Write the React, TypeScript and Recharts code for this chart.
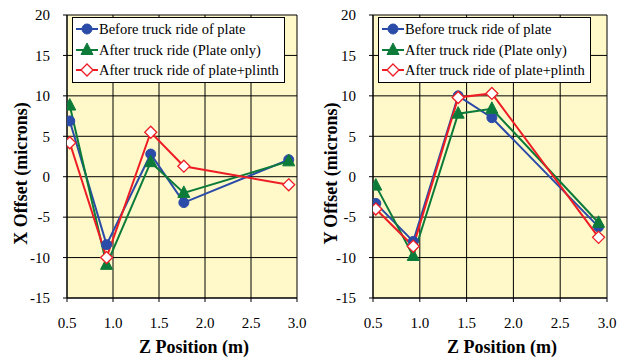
import React from 'react'
import { CartesianGrid, Line, LineChart, XAxis, YAxis } from 'recharts'

// Z positions (m) of the five measurement points
const zPositions = [0.53, 0.93, 1.41, 1.77, 2.91]

// X offset (microns)
const xBefore = [6.9, -8.4, 2.8, -3.2, 2.1]
const xAfterPlate = [8.8, -10.9, 1.8, -2.0, 1.9]
const xAfterPlinth = [4.2, -10.0, 5.5, 1.3, -1.0]

// Y offset (microns)
const yBefore = [-3.3, -8.0, 10.0, 7.3, -6.2]
const yAfterPlate = [-1.1, -9.8, 7.8, 8.4, -5.7]
const yAfterPlinth = [-4.0, -8.6, 9.8, 10.3, -7.5]

const xTicks = [0.5, 1.0, 1.5, 2.0, 2.5, 3.0]
const yTicks = [-15, -10, -5, 0, 5, 10, 15, 20]

const seriesNames = [
  'Before truck ride of plate',
  'After truck ride (Plate only)',
  'After truck ride of plate+plinth',
]

const BLUE = '#2B4BA8'
const GREEN = '#0C7B3A'
const RED = '#EE1C25'
const FONT = '"Times New Roman", Times, "Liberation Serif", "DejaVu Serif", "Noto Serif", serif'

function buildRows(a: number[], b: number[], c: number[]) {
  return zPositions.map((z, i) => ({ z, before: a[i], plate: b[i], plinth: c[i] }))
}

function CircleMark({ cx, cy, color }: { cx: number; cy: number; color: string }) {
  return <circle cx={cx} cy={cy} r={5} fill={color} stroke={color} />
}

function TriangleMark({ cx, cy, color }: { cx: number; cy: number; color: string }) {
  return <polygon points={`${cx},${cy - 7} ${cx - 6},${cy + 4.5} ${cx + 6},${cy + 4.5}`} fill={color} stroke={color} />
}

function DiamondMark({ cx, cy, color }: { cx: number; cy: number; color: string }) {
  return (
    <polygon
      points={`${cx},${cy - 6} ${cx + 6},${cy} ${cx},${cy + 6} ${cx - 6},${cy}`}
      fill="#fff"
      stroke={color}
      strokeWidth={1.3}
    />
  )
}

const markers = [
  { key: 'before', color: BLUE, Mark: CircleMark },
  { key: 'plate', color: GREEN, Mark: TriangleMark },
  { key: 'plinth', color: RED, Mark: DiamondMark },
]

// legend box drawn over the plot area, like the original spreadsheet chart
function LegendBox({ left }: { left: number }) {
  return (
    <div
      style={{
        position: 'absolute',
        left,
        top: 17,
        background: '#fff',
        border: '1px solid #000',
        padding: '1px 5px 1px 3px',
        fontFamily: FONT,
        fontSize: 14.5,
        color: '#000',
        lineHeight: '20.5px',
        whiteSpace: 'nowrap',
      }}
    >
      {markers.map(({ key, color, Mark }, i) => (
        <div key={key} style={{ display: 'flex', alignItems: 'center' }}>
          <svg width={22} height={14} style={{ marginRight: 1 }}>
            <line x1={0} y1={7} x2={22} y2={7} stroke={color} strokeWidth={2} />
            <Mark cx={11} cy={7} color={color} />
          </svg>
          <span>{seriesNames[i]}</span>
        </div>
      ))}
    </div>
  )
}

interface PanelProps {
  rows: ReturnType<typeof buildRows>
  yTitle: string
  width: number
  rightMargin: number
  yAxisWidth: number
}

function Panel({ rows, yTitle, width, rightMargin, yAxisWidth }: PanelProps) {
  return (
    <div style={{ position: 'relative', width, height: 361 }}>
      <LineChart
        width={width}
        height={361}
        data={rows}
        margin={{ top: 15, right: rightMargin, bottom: 0, left: 0 }}
        style={{ fontFamily: FONT }}
      >
        <CartesianGrid stroke="#000" strokeWidth={1} fill="#FFF9C9" />
        <XAxis
          dataKey="z"
          type="number"
          domain={[0.5, 3]}
          ticks={xTicks}
          tickFormatter={(v: number) => v.toFixed(1)}
          allowDataOverflow
          height={63}
          stroke="#000"
          tickSize={4}
          tickMargin={15}
          tick={{ fill: '#000', fontSize: 15, style: { fontFamily: FONT } }}
          label={{
            content: ({ viewBox }: any) => (
              <text
                x={viewBox.x + viewBox.width / 2 + 12}
                y={viewBox.y + 55}
                textAnchor="middle"
                style={{ fontFamily: FONT, fontWeight: 'bold', fontSize: 18 }}
                fill="#000"
              >
                Z Position (m)
              </text>
            ),
          }}
        />
        <YAxis
          type="number"
          domain={[-15, 20]}
          ticks={yTicks}
          width={yAxisWidth}
          stroke="#000"
          tickSize={4}
          tickMargin={13}
          tick={{ fill: '#000', fontSize: 15, style: { fontFamily: FONT } }}
          label={{
            content: ({ viewBox }: any) => {
              const x = viewBox.x + 27
              const y = viewBox.y + viewBox.height / 2 + 17
              return (
                <text
                  x={x}
                  y={y}
                  transform={`rotate(-90 ${x} ${y})`}
                  textAnchor="middle"
                  style={{ fontFamily: FONT, fontWeight: 'bold', fontSize: 18 }}
                  fill="#000"
                >
                  {yTitle}
                </text>
              )
            },
          }}
        />
        {markers.map(({ key, color, Mark }, i) => (
          <Line
            key={key}
            type="linear"
            dataKey={key}
            name={seriesNames[i]}
            stroke={color}
            strokeWidth={2}
            isAnimationActive={false}
            dot={(p: any) => <Mark key={`${key}-${p.index}`} cx={p.cx} cy={p.cy} color={color} />}
            activeDot={false}
          />
        ))}
      </LineChart>
      <LegendBox left={yAxisWidth + 5} />
    </div>
  )
}

export default function App() {
  const leftRows = buildRows(xBefore, xAfterPlate, xAfterPlinth)
  const rightRows = buildRows(yBefore, yAfterPlate, yAfterPlinth)
  return (
    <div style={{ position: 'fixed', left: 0, top: 0, width: 627, height: 361, background: '#fff' }}>
      <div style={{ position: 'absolute', left: 0, top: 0 }}>
        <Panel rows={leftRows} yTitle="X Offset (microns)" width={313} rightMargin={16} yAxisWidth={67} />
      </div>
      <div style={{ position: 'absolute', left: 310, top: 0 }}>
        <Panel rows={rightRows} yTitle="Y Offset (microns)" width={317} rightMargin={20} yAxisWidth={63} />
      </div>
    </div>
  )
}
